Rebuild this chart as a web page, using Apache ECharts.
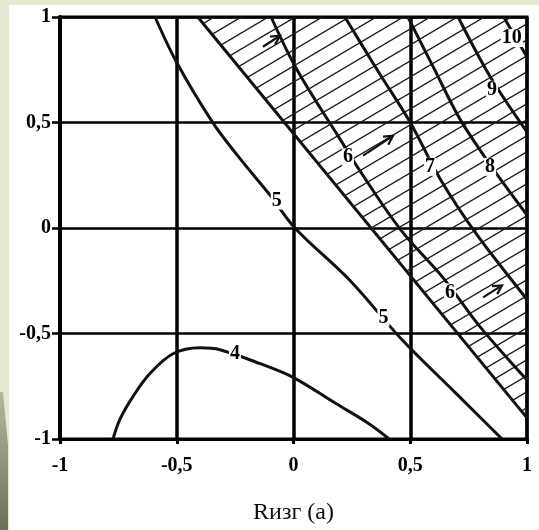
<!DOCTYPE html>
<html>
<head>
<meta charset="utf-8">
<script src="https://cdn.jsdelivr.net/npm/echarts@6/dist/echarts.min.js"></script>
<style>
  html, body { margin: 0; padding: 0; background: #e3e9d3; }
  #chart { width: 539px; height: 530px; }
</style>
</head>
<body>
<div id="chart"></div>
<script>
// Axis ticks (both axes run from -1 to 1)
const xTicks = [-1, -0.5, 0, 0.5, 1];
const yTicks = [-1, -0.5, 0, 0.5, 1];

// Level curves, [x, y] pairs
const curve4 = [[-0.773, -1], [-0.743, -0.906], [-0.687, -0.798], [-0.615, -0.69], [-0.516, -0.596],
                [-0.40, -0.568], [-0.315, -0.577], [-0.143, -0.643], [0, -0.709], [0.18, -0.831],
                [0.32, -0.925], [0.41, -1]];
const curve5 = [[-0.593, 1], [-0.5, 0.784], [-0.345, 0.498], [-0.229, 0.329], [-0.1, 0.155],
                [0.006, 0], [0.242, -0.249], [0.465, -0.53], [0.696, -0.784], [0.893, -1]];
const curve6 = [[-0.096, 1], [0.015, 0.75], [0.2, 0.42], [0.285, 0.27], [0.46, -0.01],
                [0.64, -0.235], [0.8, -0.47], [1, -0.72]];
const curve7 = [[0.22, 1], [0.358, 0.75], [0.5, 0.5], [0.627, 0.235], [0.786, -0.033],
                [0.983, -0.315], [1, -0.34]];
const curve8 = [[0.49, 1], [0.60, 0.76], [0.713, 0.516], [0.842, 0.30], [0.884, 0.235], [1, 0.061]];
const curve9 = [[0.705, 1], [0.842, 0.718], [1, 0.455]];
const curve10 = [[0.90, 1], [1, 0.81]];

// Edge of the shaded zone and the zone itself
const zoneEdge = [[-0.41, 1], [1, -0.9]];
const zone = [[-0.41, 1], [1, 1], [1, -0.9]];

// Level labels: [x, y, text]
const levelLabels = [
  [-0.251, -0.598, '4'],
  [-0.072, 0.13, '5'],
  [0.385, -0.425, '5'],
  [0.233, 0.335, '6'],
  [0.67, -0.305, '6'],
  [0.585, 0.29, '7'],
  [0.842, 0.29, '8'],
  [0.85, 0.655, '9'],
  [0.935, 0.90, '10']
];

// Direction arrows: [x1, y1, x2, y2]
const arrows = [
  [-0.131, 0.859, -0.058, 0.911],
  [0.298, 0.343, 0.426, 0.437],
  [0.812, -0.329, 0.893, -0.272]
];

// Diagonal hatch tile
function makeHatch() {
  const W = 27, H = 16;
  const c = document.createElement('canvas');
  c.width = W; c.height = H;
  const ctx = c.getContext('2d');
  ctx.strokeStyle = '#1a1a1a';
  ctx.lineWidth = 1.4;
  for (let k = -1; k <= 1; k++) {
    ctx.beginPath();
    ctx.moveTo(-W, H + H + k * H);
    ctx.lineTo(2 * W, H - 2 * H + k * H);
    ctx.stroke();
  }
  return c;
}
const hatchTile = makeHatch();

const fmt = v => String(v).replace('.', ',');
const serif = "'Liberation Serif', 'DejaVu Serif', serif";

function curveSeries(data) {
  return {
    type: 'line', data: data, smooth: 0.35, symbol: 'none', z: 4,
    lineStyle: { color: '#111', width: 3 }, silent: true
  };
}

const chart = echarts.init(document.getElementById('chart'), null, { renderer: 'canvas' });

chart.setOption({
  animation: false,
  backgroundColor: 'transparent',
  graphic: [
    { type: 'rect', z: -100, shape: { x: 9, y: 5, width: 530, height: 525 }, style: { fill: '#ffffff' } },
    { type: 'polygon', z: -99,
      shape: { points: [[0, 392], [3, 392], [8, 445], [8, 530], [0, 530]] },
      style: { fill: new echarts.graphic.LinearGradient(0, 0, 0, 1, [
        { offset: 0, color: '#b3b99f' }, { offset: 1, color: '#6c725a' }]) } }
  ],
  grid: {
    left: 60, right: 12, top: 17, bottom: 87,
    show: true, backgroundColor: '#fff', borderColor: '#000', borderWidth: 3
  },
  xAxis: {
    type: 'value', min: -1, max: 1, interval: 0.5,
    axisLine: { show: true, onZero: false, lineStyle: { color: '#000', width: 3 } },
    axisTick: { show: true, length: 5, lineStyle: { color: '#000', width: 3 } },
    splitLine: { show: true, lineStyle: { color: '#000', width: 3.5 } },
    axisLabel: {
      formatter: v => xTicks.includes(v) ? fmt(v) : '',
      color: '#000', fontFamily: serif, fontWeight: 'bold', fontSize: 20, margin: 17
    },
    name: 'Rизг (а)', nameLocation: 'middle', nameGap: 62,
    nameTextStyle: { color: '#111', fontFamily: serif, fontSize: 24 }
  },
  yAxis: {
    type: 'value', min: -1, max: 1, interval: 0.5,
    axisLine: { show: true, onZero: false, lineStyle: { color: '#000', width: 4 } },
    axisTick: { show: true, length: 8, lineStyle: { color: '#000', width: 2.5 } },
    splitLine: { show: true, lineStyle: { color: '#000', width: 2.5 } },
    axisLabel: {
      formatter: v => yTicks.includes(v) ? fmt(v) : '',
      color: '#000', fontFamily: serif, fontWeight: 'bold', fontSize: 20, margin: 9
    }
  },
  series: [
    {
      type: 'custom', coordinateSystem: 'cartesian2d', data: [[0, 0]], z: 1, silent: true,
      renderItem: (params, api) => ({
        type: 'polygon',
        shape: { points: zone.map(p => api.coord(p)) },
        style: { fill: { image: hatchTile, repeat: 'repeat' } }
      })
    },
    curveSeries(curve4),
    curveSeries(curve5),
    curveSeries(curve6),
    curveSeries(curve7),
    curveSeries(curve8),
    curveSeries(curve9),
    curveSeries(curve10),
    { type: 'line', data: zoneEdge, symbol: 'none', z: 4, silent: true,
      lineStyle: { color: '#111', width: 3 } },
    {
      type: 'custom', coordinateSystem: 'cartesian2d', data: arrows, z: 6, silent: true,
      renderItem: (params, api) => {
        const p1 = api.coord([api.value(0), api.value(1)]);
        const p2 = api.coord([api.value(2), api.value(3)]);
        const ang = Math.atan2(p2[1] - p1[1], p2[0] - p1[0]);
        const L = 10, a = 0.5;
        const h1 = [p2[0] - L * Math.cos(ang - a), p2[1] - L * Math.sin(ang - a)];
        const h2 = [p2[0] - L * Math.cos(ang + a), p2[1] - L * Math.sin(ang + a)];
        return {
          type: 'group',
          children: [
            { type: 'line', shape: { x1: p1[0], y1: p1[1], x2: p2[0], y2: p2[1] },
              style: { stroke: '#111', lineWidth: 2.2 } },
            { type: 'polyline', shape: { points: [h1, p2, h2] },
              style: { stroke: '#111', lineWidth: 2.2, fill: 'none' } }
          ]
        };
      }
    },
    {
      type: 'scatter', data: levelLabels, symbolSize: 1, z: 8, silent: true,
      itemStyle: { color: '#fff', opacity: 1 },
      label: {
        show: true, position: 'inside', formatter: p => p.value[2],
        color: '#000', opacity: 1, fontFamily: serif, fontWeight: 'bold', fontSize: 20,
        backgroundColor: '#fff', padding: [0, 1, -1, 1], lineHeight: 19
      }
    }
  ]
});
</script>
</body>
</html>
